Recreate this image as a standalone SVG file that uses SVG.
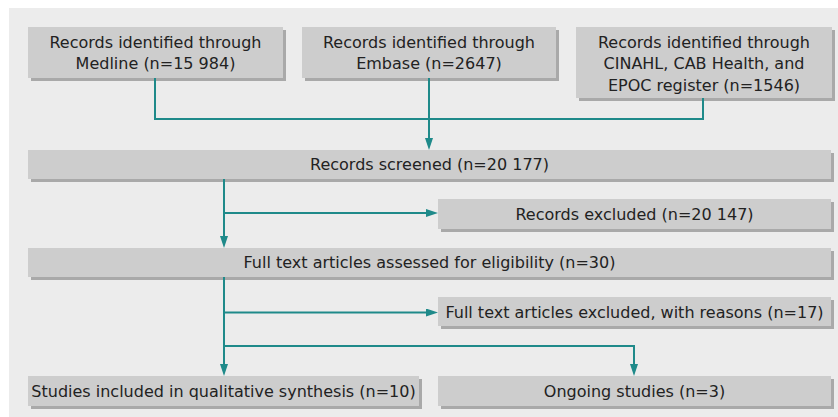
<svg xmlns="http://www.w3.org/2000/svg" width="838" height="417" viewBox="0 0 838 417">
<defs>
<style>
.box{fill:#cdcdcd}
.sh{fill:#a9a9a9}
text{font-family:"DejaVu Sans","Liberation Sans",sans-serif;font-size:16px;fill:#222;text-anchor:middle}
.con{fill:none;stroke:#1f8a8a;stroke-width:2}
</style>
<marker id="arr" markerUnits="userSpaceOnUse" markerWidth="12" markerHeight="8" refX="6" refY="4" orient="auto">
<path d="M0,0 L12,4 L0,8 z" fill="#1f8a8a"/>
</marker>
</defs>
<rect x="9" y="8" width="829" height="409" fill="#ececec"/>
<g id="n1">
<rect class="sh" x="31" y="30" width="255" height="51"/>
<rect class="box" x="28" y="27" width="255" height="51"/>
<text x="155.5" y="48">Records identified through</text>
<text x="155.5" y="69">Medline (n=15 984)</text>
</g>
<g id="n2">
<rect class="sh" x="305" y="30" width="254" height="51"/>
<rect class="box" x="302" y="27" width="254" height="51"/>
<text x="429" y="48">Records identified through</text>
<text x="429" y="69">Embase (n=2647)</text>
</g>
<g id="n3">
<rect class="sh" x="579" y="30" width="256" height="71"/>
<rect class="box" x="576" y="27" width="256" height="71"/>
<text x="704" y="48">Records identified through</text>
<text x="704" y="69">CINAHL, CAB Health, and</text>
<text x="704" y="90.5">EPOC register (n=1546)</text>
</g>
<g id="n4">
<rect class="sh" x="31" y="153" width="803" height="29"/>
<rect class="box" x="28" y="150" width="803" height="29"/>
<text x="429.5" y="170">Records screened (n=20 177)</text>
</g>
<g id="n5">
<rect class="sh" x="441" y="202" width="393" height="30"/>
<rect class="box" x="438" y="199" width="393" height="30"/>
<text x="634.5" y="220">Records excluded (n=20 147)</text>
</g>
<g id="n6">
<rect class="sh" x="31" y="251" width="803" height="29"/>
<rect class="box" x="28" y="248" width="803" height="29"/>
<text x="429.5" y="268">Full text articles assessed for eligibility (n=30)</text>
</g>
<g id="n7">
<rect class="sh" x="441" y="300" width="393" height="29"/>
<rect class="box" x="438" y="297" width="393" height="29"/>
<text x="634.5" y="318">Full text articles excluded, with reasons (n=17)</text>
</g>
<g id="n8">
<rect class="sh" x="31" y="379" width="391" height="30"/>
<rect class="box" x="28" y="376" width="391" height="30"/>
<text x="223.5" y="396.5">Studies included in qualitative synthesis (n=10)</text>
</g>
<g id="n9">
<rect class="sh" x="441" y="379" width="393" height="30"/>
<rect class="box" x="438" y="376" width="393" height="30"/>
<text x="634.5" y="396.5">Ongoing studies (n=3)</text>
</g>
<g id="connectors">
<path class="con" d="M155,78 V119 H703 V98"/>
<path class="con" d="M429,78 V144" marker-end="url(#arr)"/>
<path class="con" d="M224,179 V242" marker-end="url(#arr)"/>
<path class="con" d="M224,213 H432" marker-end="url(#arr)"/>
<path class="con" d="M224,277 V370" marker-end="url(#arr)"/>
<path class="con" d="M224,312.5 H432" marker-end="url(#arr)"/>
<path class="con" d="M224,346 H634 V370" marker-end="url(#arr)"/>
</g>
</svg>
